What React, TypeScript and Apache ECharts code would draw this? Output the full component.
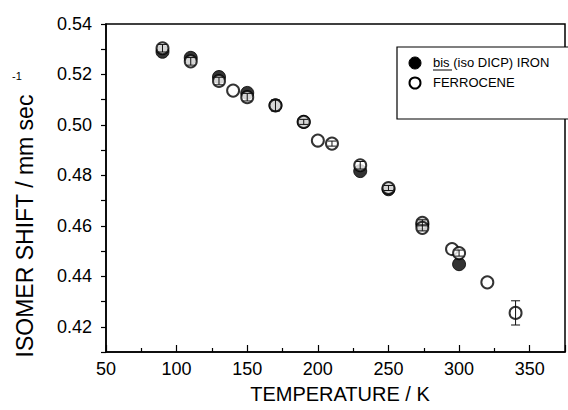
import React, { useEffect, useRef } from "react";
import * as echarts from "echarts";

const ferroT = [90, 110, 130, 140, 150, 170, 190, 200, 210, 230, 250, 274, 274, 295, 300, 320, 340];
const ferroV = [0.5304, 0.5252, 0.5174, 0.5136, 0.511, 0.5077, 0.5012, 0.4938, 0.4926, 0.484, 0.475, 0.4612, 0.4592, 0.4508, 0.4492, 0.4376, 0.4255];
const ferroErr = [0.0015, 0.0015, 0.0015, 0, 0.0015, 0.0022, 0.001, 0, 0.001, 0.0015, 0.001, 0.0012, 0.0012, 0, 0.0012, 0, 0.0048];

const bisT = [90, 110, 130, 150, 170, 190, 230, 250, 274, 300];
const bisV = [0.529, 0.5266, 0.519, 0.5127, 0.5078, 0.5012, 0.4817, 0.4745, 0.4605, 0.4448];

const xTicks = [50, 100, 150, 200, 250, 300, 350];
const yTicks = [0.42, 0.44, 0.46, 0.48, 0.5, 0.52, 0.54];

const FONT = "'Liberation Sans', Arial, Helvetica, sans-serif";

export default function App() {
  const ref = useRef<HTMLDivElement>(null);
  useEffect(() => {
    document.body.style.margin = "0";
    document.body.style.overflow = "hidden";
    if (!ref.current) return;
    const chart = echarts.init(ref.current, null, { renderer: "svg" });
    const errData = ferroT.map((t, i) => [t, ferroV[i], ferroErr[i]]);
    chart.setOption({
      animation: false,
      grid: {
        left: 106,
        top: 24,
        bottom: 58,
        right: -8,
        show: true,
        borderColor: "#000",
        borderWidth: 1.5,
        backgroundColor: "transparent",
      },
      xAxis: {
        type: "value",
        min: 50,
        max: 375,
        interval: 50,
        axisLine: { show: true, lineStyle: { color: "#000", width: 1.5 } },
        axisTick: { show: true, inside: true, length: 7, lineStyle: { color: "#000", width: 1.2 } },
        minorTick: { show: true, splitNumber: 2, length: 4, lineStyle: { color: "#000", width: 1.2 } },
        splitLine: { show: false },
        axisLabel: {
          color: "#000",
          fontFamily: FONT,
          fontSize: 18,
          margin: 8,
          formatter: (v: number) => (xTicks.includes(Math.round(v)) ? String(Math.round(v)) : ""),
        },
      },
      yAxis: {
        type: "value",
        min: 0.41,
        max: 0.54,
        interval: 0.01,
        axisLine: { show: true, lineStyle: { color: "#000", width: 1.5 } },
        axisTick: { show: true, inside: false, length: 5, lineStyle: { color: "#000", width: 1.2 } },
        splitLine: { show: false },
        axisLabel: {
          color: "#000",
          fontFamily: FONT,
          fontSize: 18,
          margin: 14,
          formatter: (v: number) => {
            const r = Math.round(v * 100) / 100;
            return yTicks.some((t) => Math.abs(t - r) < 1e-6) ? r.toFixed(2) : "";
          },
        },
      },
      graphic: [
        {
          type: "text",
          x: 25,
          y: 226,
          rotation: Math.PI / 2,
          style: {
            text: "ISOMER SHIFT / mm sec",
            fontFamily: FONT,
            fontSize: 23,
            fill: "#000",
            align: "center",
            verticalAlign: "middle",
          },
        },
        {
          type: "text",
          x: 17,
          y: 76,
          style: { text: "-1", fontFamily: FONT, fontSize: 11, fill: "#000", align: "center", verticalAlign: "middle" },
        },
        {
          type: "text",
          x: 340,
          y: 394,
          style: {
            text: "TEMPERATURE / K",
            fontFamily: FONT,
            fontSize: 20,
            fill: "#000",
            align: "center",
            verticalAlign: "middle",
          },
        },
        {
          type: "rect",
          shape: { x: 397, y: 47, width: 200, height: 72 },
          style: { fill: "#fff", stroke: "#000", lineWidth: 1.2 },
          z: 10,
        },
        {
          type: "circle",
          shape: { cx: 415, cy: 63, r: 6 },
          style: { fill: "#000", stroke: "#000", lineWidth: 1 },
          z: 11,
        },
        {
          type: "circle",
          shape: { cx: 415, cy: 83, r: 5.5 },
          style: { fill: "#fff", stroke: "#000", lineWidth: 2 },
          z: 11,
        },
        {
          type: "text",
          x: 433,
          y: 62,
          style: { text: "bis (iso DICP) IRON", fontFamily: FONT, fontSize: 13, fill: "#000", verticalAlign: "middle" },
          z: 11,
        },
        {
          type: "line",
          shape: { x1: 433, y1: 70, x2: 452, y2: 70 },
          style: { stroke: "#000", lineWidth: 1 },
          z: 11,
        },
        {
          type: "text",
          x: 433,
          y: 82,
          style: { text: "FERROCENE", fontFamily: FONT, fontSize: 13, fill: "#000", verticalAlign: "middle" },
          z: 11,
        },
      ],
      series: [
        {
          name: "bis (iso DICP) IRON",
          type: "scatter",
          data: bisT.map((t, i) => [t, bisV[i]]),
          symbol: "circle",
          symbolSize: 13,
          itemStyle: { color: "#000", borderColor: "#000", borderWidth: 1 },
          z: 2,
        },
        {
          name: "FERROCENE",
          type: "scatter",
          data: ferroT.map((t, i) => [t, ferroV[i]]),
          symbol: "circle",
          symbolSize: 12,
          itemStyle: { color: "#fff", borderColor: "#000", borderWidth: 2 },
          z: 3,
        },
        {
          type: "custom",
          z: 4,
          data: errData,
          renderItem: (params: any, api: any) => {
            const x = api.value(0);
            const y = api.value(1);
            const e = api.value(2);
            if (!e) return { type: "group", children: [] };
            const top = api.coord([x, y + e]);
            const bot = api.coord([x, y - e]);
            const hw = 4.5;
            const st = { stroke: "#111", lineWidth: 1 };
            return {
              type: "group",
              children: [
                { type: "line", shape: { x1: top[0], y1: top[1], x2: bot[0], y2: bot[1] }, style: st },
                { type: "line", shape: { x1: top[0] - hw, y1: top[1], x2: top[0] + hw, y2: top[1] }, style: st },
                { type: "line", shape: { x1: bot[0] - hw, y1: bot[1], x2: bot[0] + hw, y2: bot[1] }, style: st },
              ],
            };
          },
        },
      ],
    });
    return () => chart.dispose();
  }, []);
  return <div ref={ref} style={{ width: 568, height: 410 }} />;
}
